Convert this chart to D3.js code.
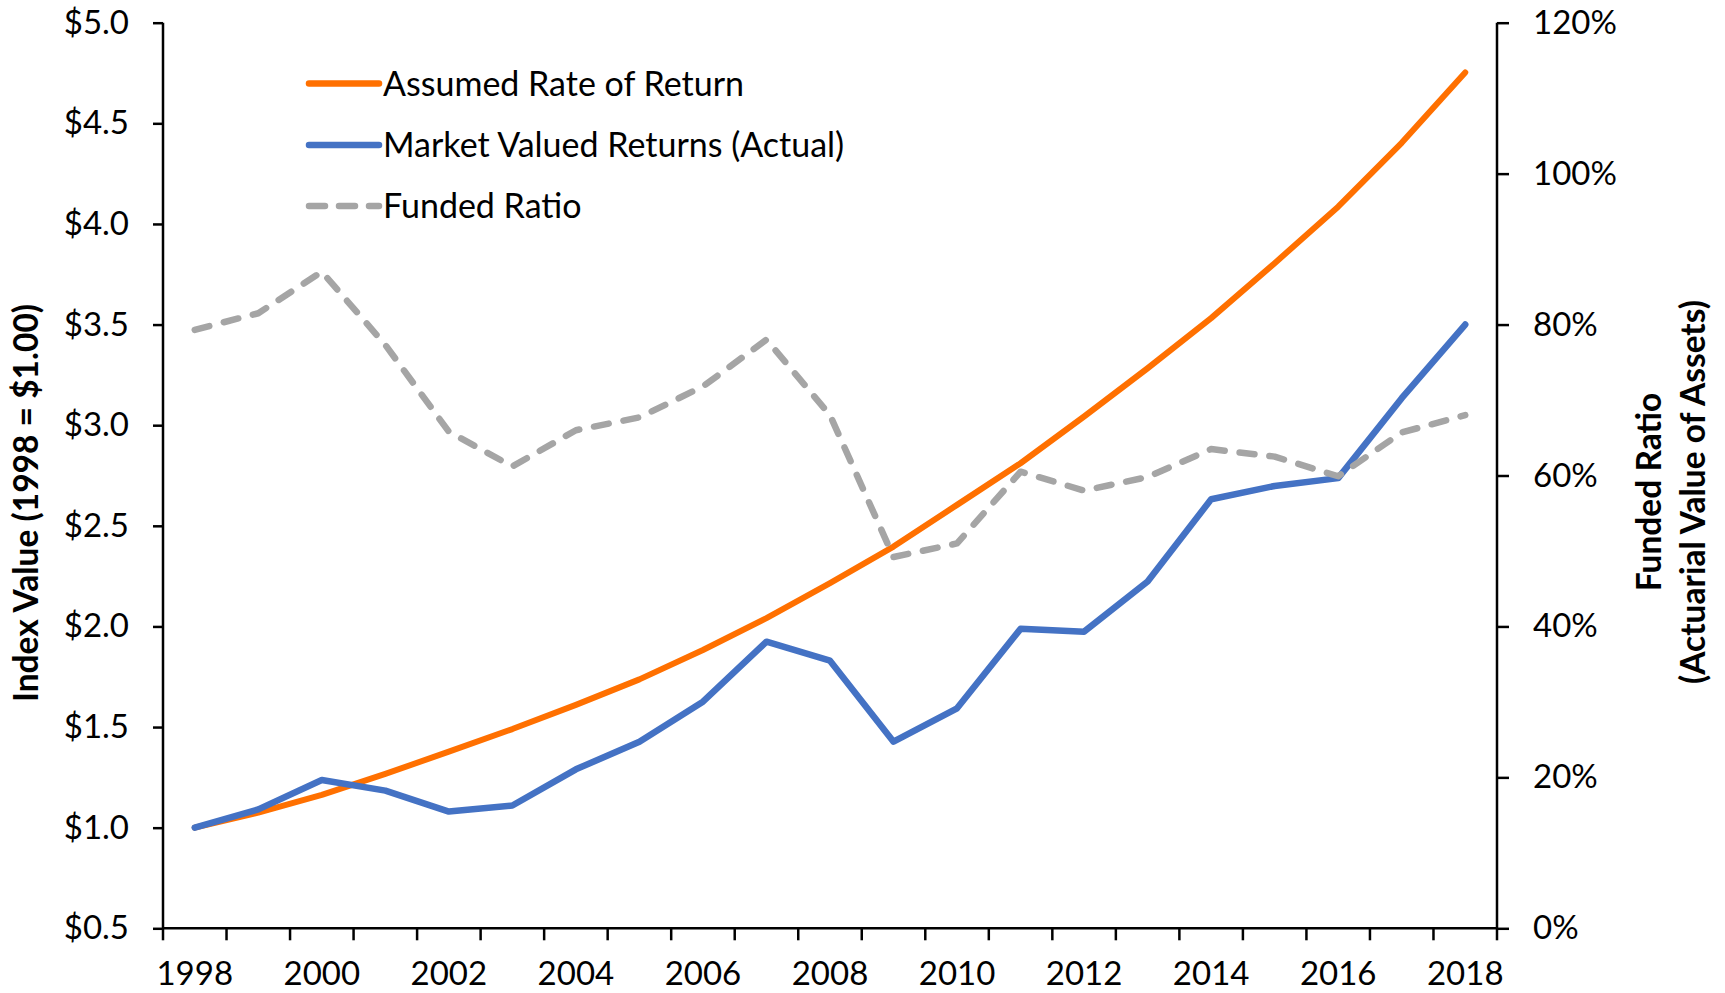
<!DOCTYPE html>
<html>
<head>
<meta charset="utf-8">
<script src="https://cdn.jsdelivr.net/npm/d3@7"></script>
<style>
  html, body { margin: 0; padding: 0; background: #fff; }
  svg { display: block; font-family: Lato, "Open Sans", sans-serif; }
</style>
</head>
<body>
<svg id="chart" width="1725" height="993"></svg>
<script>
const years = [1998,1999,2000,2001,2002,2003,2004,2005,2006,2007,2008,2009,2010,2011,2012,2013,2014,2015,2016,2017,2018];
const assumedReturn = [1.00,1.075,1.163,1.267,1.378,1.49,1.61,1.737,1.883,2.041,2.215,2.397,2.604,2.811,3.043,3.283,3.532,3.805,4.086,4.403,4.753];
const actualReturn = [1.00,1.091,1.237,1.184,1.080,1.11,1.29,1.427,1.626,1.924,1.830,1.427,1.593,1.988,1.974,2.223,2.632,2.698,2.737,3.134,3.500];
const fundedRatio = [79.3,81.5,87.0,77.3,65.8,61.2,66.0,67.7,71.8,78.0,68.0,49.2,51.0,60.5,58.0,59.8,63.5,62.5,59.9,65.7,68.0];
const leftTicks = [0.5,1.0,1.5,2.0,2.5,3.0,3.5,4.0,4.5,5.0];
const rightTicks = [0,20,40,60,80,100,120];
const xLabelYears = [1998,2000,2002,2004,2006,2008,2010,2012,2014,2016,2018];
const seriesNames = ["Assumed Rate of Return","Market Valued Returns (Actual)","Funded Ratio"];

const svg = d3.select("#chart");
const L = 163, R = 1497, T = 22.7, B = 928.3;
const fontSize = 33;

const x = d3.scaleBand().domain(years).range([L, R]).padding(0);
const yL = d3.scaleLinear().domain([0.5, 5.0]).range([B, T]);
const yR = d3.scaleLinear().domain([0, 120]).range([B, T]);
const cx = d => x(d) + x.bandwidth() / 2;

const colors = { orange: "#FF7000", blue: "#4472C4", gray: "#A5A5A5" };

// Left axis
const gL = svg.append("g").attr("transform", `translate(${L},0)`)
  .call(d3.axisLeft(yL).tickValues(leftTicks).tickSize(10).tickPadding(24)
    .tickFormat(d => "$" + d.toFixed(1)));
// Right axis
const gR = svg.append("g").attr("transform", `translate(${R},0)`)
  .call(d3.axisRight(yR).tickValues(rightTicks).tickSize(12).tickPadding(24)
    .tickFormat(d => d + "%"));
// Bottom axis: labels at every other category centre
const gB = svg.append("g").attr("transform", `translate(0,${B})`)
  .call(d3.axisBottom(x).tickValues(xLabelYears).tickSize(0).tickPadding(33));
// Boundary ticks on category axis
const bounds = years.map(d => x(d)).concat([R]);
gB.selectAll(".bt").data(bounds).enter().append("line")
  .attr("x1", d => d).attr("x2", d => d).attr("y1", 0).attr("y2", 12)
  .attr("stroke", "#000").attr("stroke-width", 2.5);

[gL, gR, gB].forEach(g => {
  g.selectAll(".domain").attr("stroke", "#000").attr("stroke-width", 2.5);
  g.selectAll(".tick line").attr("stroke", "#000").attr("stroke-width", 2.5);
  g.selectAll("text").attr("fill", "#000").style("font-size", fontSize + "px")
    .style("font-family", "Lato, 'Open Sans', sans-serif");
});
gL.select(".domain").attr("d", `M0,${B}V${T}`);
gR.select(".domain").attr("d", `M0,${B}V${T}`);
gB.select(".domain").attr("d", `M${L},0H${R}`);

// Lines
const lineL = d3.line().x((d, i) => cx(years[i])).y(d => yL(d));
const lineR = d3.line().x((d, i) => cx(years[i])).y(d => yR(d));

svg.append("path").datum(assumedReturn).attr("d", lineL)
  .attr("fill", "none").attr("stroke", colors.orange).attr("stroke-width", 6)
  .attr("stroke-linecap", "round").attr("stroke-linejoin", "round");
svg.append("path").datum(actualReturn).attr("d", lineL)
  .attr("fill", "none").attr("stroke", colors.blue).attr("stroke-width", 6.5)
  .attr("stroke-linecap", "round").attr("stroke-linejoin", "round");
svg.append("path").datum(fundedRatio).attr("d", lineR)
  .attr("fill", "none").attr("stroke", colors.gray).attr("stroke-width", 6.5)
  .attr("stroke-dasharray", "15,15")
  .attr("stroke-linecap", "round").attr("stroke-linejoin", "round");

// Legend
const legend = svg.append("g");
const legY = [83.5, 145, 206];
const legStyles = [
  { c: colors.orange, dash: null },
  { c: colors.blue, dash: null },
  { c: colors.gray, dash: "16,14" }
];
seriesNames.forEach((name, i) => {
  const ln = legend.append("line")
    .attr("x1", 309).attr("x2", 379).attr("y1", legY[i]).attr("y2", legY[i])
    .attr("stroke", legStyles[i].c).attr("stroke-width", 6.5)
    .attr("stroke-linecap", "round");
  if (legStyles[i].dash) ln.attr("stroke-dasharray", legStyles[i].dash);
  legend.append("text").attr("x", 383).attr("y", legY[i] + 12)
    .style("font-size", "34px").attr("fill", "#000").text(name);
});

// Axis titles
svg.append("text")
  .attr("transform", "translate(38,503) rotate(-90)")
  .attr("text-anchor", "middle")
  .style("font-size", "33.5px").style("font-weight", "bold")
  .text("Index Value (1998 = $1.00)");
svg.append("text")
  .attr("transform", "translate(1661,492) rotate(-90)")
  .attr("text-anchor", "middle")
  .style("font-size", "33.5px").style("font-weight", "bold")
  .text("Funded Ratio");
svg.append("text")
  .attr("transform", "translate(1705,492) rotate(-90)")
  .attr("text-anchor", "middle")
  .style("font-size", "33.5px").style("font-weight", "bold")
  .text("(Actuarial Value of Assets)");
</script>
</body>
</html>
